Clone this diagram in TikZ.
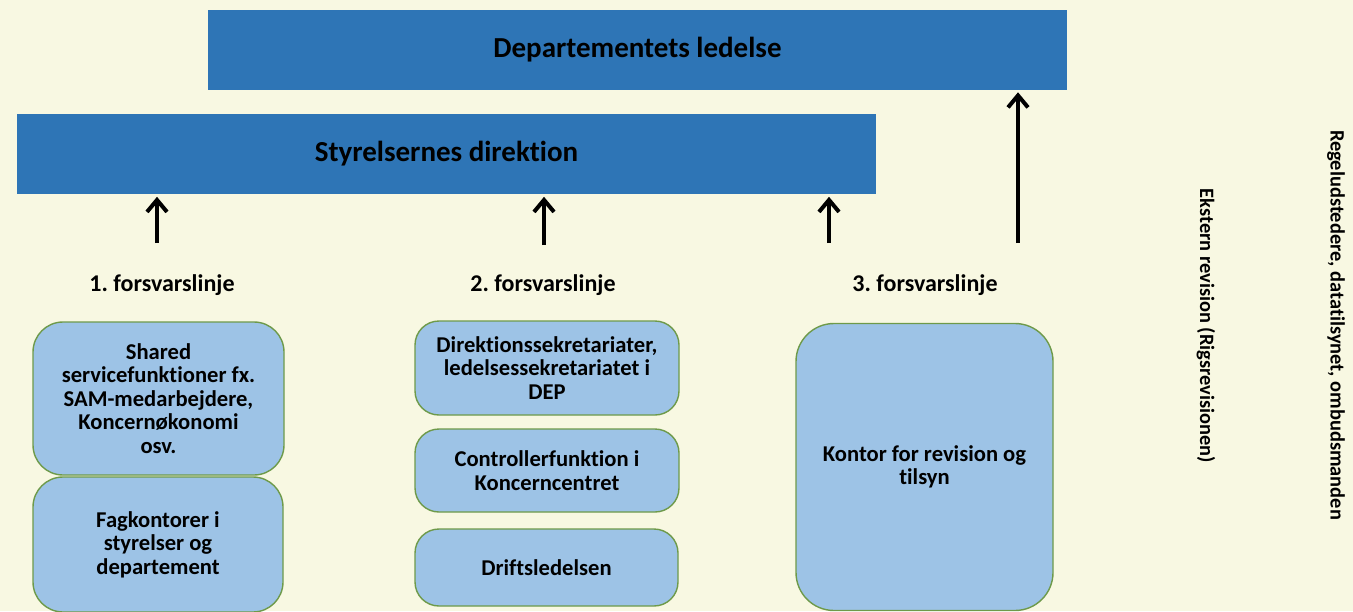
\documentclass[tikz,border=0pt]{standalone}
\usepackage{fontspec}
\setmainfont{Carlito}[Ligatures=NoCommon]
\usetikzlibrary{arrows.meta}
\definecolor{bgcream}{HTML}{F8F8E2}
\definecolor{barblue}{HTML}{2E75B6}
\definecolor{boxblue}{HTML}{9DC3E6}
\definecolor{boxgreen}{HTML}{6E9A4A}
\frenchspacing

\begin{document}
\begin{tikzpicture}[x=0.5pt,y=-0.5pt,->,>={Straight Barb[length=6pt,width=10pt]},shorten >=1pt,thick,
  bar node/.style={rectangle,fill=barblue,inner sep=0pt,minimum width=429.5pt,
    minimum height=40pt,font=\fontsize{14.5}{16}\selectfont\bfseries},
  line node/.style={rectangle,rounded corners=15pt,draw=boxgreen,fill=boxblue,
    line width=0.7pt,inner sep=0pt,align=center,
    font=\fontsize{11.3}{11.75}\selectfont\bfseries},
  label node/.style={font=\fontsize{12}{14}\selectfont\bfseries},
  side node/.style={font=\fontsize{10.2}{12}\selectfont\bfseries}]
  \fill[bgcream,-] (0,0) rectangle (1353,611);
  \useasboundingbox (0,0) rectangle (1353,611);

  % top bars
  \node[bar node] (dep) at (637.5,49.5) {Departementets ledelse};
  \node[bar node] (styr) at (446.5,154) {Styrelsernes direktion};

  % the three lines of defence
  \node[label node] (line1) at (162,285) {1. forsvarslinje};
  \node[label node] (line2) at (543,285) {2. forsvarslinje};
  \node[label node] (line3) at (925,285) {3. forsvarslinje};

  \node[line node,minimum width=125.5pt,minimum height=76.5pt] (shared) at (158.5,398.5)
    {Shared\\servicefunktioner fx.\\SAM-medarbejdere,\\Koncernøkonomi\\osv.};
  \node[line node,minimum width=125pt,minimum height=67.5pt] (fag) at (158,544.5)
    {Fagkontorer i\\styrelser og\\departement};
  \node[line node,rounded corners=12pt,minimum width=132pt,minimum height=47pt] (direk) at (547,368)
    {Direktionssekretariater,\\ledelsessekretariatet i\\DEP};
  \node[line node,rounded corners=12pt,minimum width=132pt,minimum height=41.5pt] (contr) at (547,470.5)
    {Controllerfunktion i\\Koncerncentret};
  \node[line node,rounded corners=12pt,minimum width=131.5pt,minimum height=38.5pt] (drift) at (546.5,567.5)
    {Driftsledelsen};
  \node[line node,rounded corners=19pt,minimum width=128.5pt,minimum height=143.5pt] (kontor) at (924.5,467)
    {Kontor for revision og\\tilsyn};

  % outside parties
  \node[side node,rotate=-90] (ekstern) at (1206,326) {Ekstern revision (Rigsrevisionen)};
  \node[side node,rotate=-90] (regel) at (1336,325) {Regeludstedere, datatilsynet, ombudsmanden};

  % reporting arrows
  \coordinate (up1) at (157,243);
  \coordinate (up2) at (544,245);
  \coordinate (up3) at (829,243);
  \coordinate (up4) at (1018,243);
  \path[line width=2pt]
    (up1) edge (up1 |- styr.south)
    (up2) edge (up2 |- styr.south)
    (up3) edge (up3 |- styr.south)
    (up4) edge (up4 |- dep.south)
;
\end{tikzpicture}
\end{document}
